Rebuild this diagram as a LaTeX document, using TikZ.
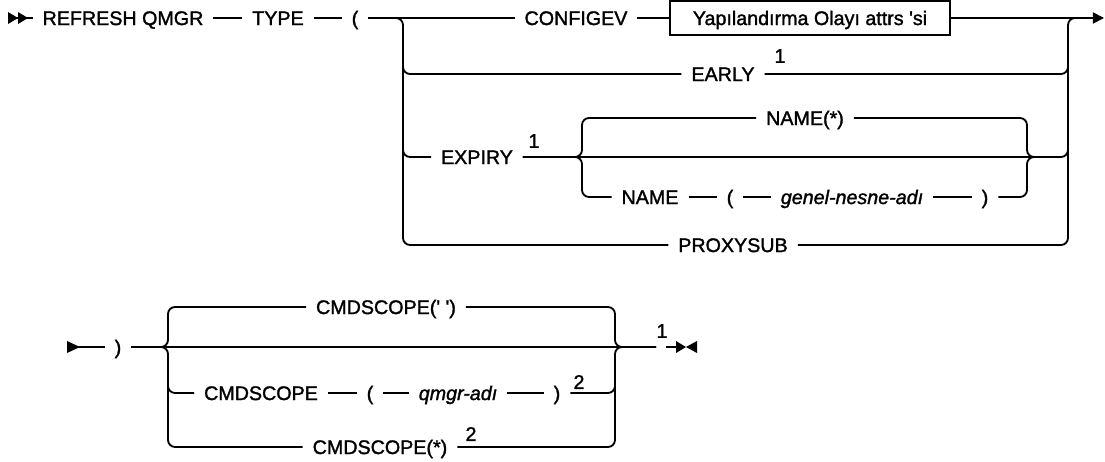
\documentclass[tikz,border=0pt]{standalone}
\usepackage{fontspec}
\setmainfont[Ligatures=TeXOff,FakeBold=1.5]{Liberation Sans}
\usetikzlibrary{arrows.meta}
\newcommand\synsize{\fontsize{14}{16}\selectfont}

\begin{document}
\begin{tikzpicture}[x=0.025cm, y=-0.025cm, line width=1.3pt,
  kw/.style={font=\synsize, inner xsep=6.5pt, inner ysep=0pt, text height=10pt, text depth=0pt},
  var/.style={kw, font=\synsize\itshape},
  fn/.style={font=\synsize, inner sep=0pt},
  attrbox/.style={kw, draw, minimum width=7cm, minimum height=0.85cm},
  rc/.style={rounded corners=5pt}]
  \useasboundingbox (0,0) rectangle (1105,461);

  % first line
  \coordinate (in1) at (8,18);
  \node[kw] (refresh) at (123,18) {REFRESH QMGR};
  \node[kw] (type) at (278,18) {TYPE};
  \node[kw] (lparen) at (355,18) {(};
  \node[kw] (configev) at (576,18) {CONFIGEV};
  \node[attrbox] (attrs) at (810,18) {Yapılandırma Olayı attrs 'si};
  \node[kw] (early) at (723,74) {EARLY};
  \node[fn] (n1a) at (780,56) {1};
  \node[kw] (expiry) at (477,157) {EXPIRY};
  \node[fn] (n1b) at (534,141) {1};
  \node[kw] (namestar) at (805,118) {NAME(*)};
  \node[kw] (name) at (650,197) {NAME};
  \node[kw] (lp2) at (730,197) {(};
  \node[var] (genel) at (852,197) {genel-nesne-adı};
  \node[kw] (rp2) at (985,197) {)};
  \node[kw] (proxysub) at (733,245) {PROXYSUB};
  \coordinate (L1b) at (403,245);
  \coordinate (L1m) at (403,40);
  \coordinate (R1) at (1068,18);
  \coordinate (R1m) at (1068,40);
  \coordinate (S1t) at (582,118);
  \coordinate (S1b) at (582,197);
  \coordinate (S2) at (1027,157);
  \coordinate (S2o) at (1045,157);
  \coordinate (exit1) at (1104,18);

  \fill (8,12) -- (18,18) -- (8,24) -- cycle;
  \fill (18,12) -- (28,18) -- (18,24) -- cycle;
  \draw (in1) -- (refresh);
  \draw (refresh) -- (type);
  \draw (type) -- (lparen);
  \draw (lparen) -- (configev);
  \draw (configev) -- (attrs);
  \draw[-{Triangle[length=0.28cm,width=0.28cm]}] (attrs) -- (exit1);
  \draw[rc] (lparen) -| (L1b) -- (proxysub);
  \draw[rc] (L1m) |- (early);
  \draw[rc] (L1m) |- (expiry);
  \draw[rc] (early) -| (R1m);
  \draw[rc] (expiry) -| (R1m);
  \draw[rc] (proxysub) -| (R1) -- ++(12,0);
  \draw[rc] (expiry) -| (S1t) -- (namestar);
  \draw[rc] (expiry) -| (S1b) -- (name);
  \draw (name) -- (lp2);
  \draw (lp2) -- (genel);
  \draw (genel) -- (rp2);
  \draw[rc] (namestar) -| (S2) -- (S2o);
  \draw[rc] (rp2) -| (S2) -- (S2o);

  % second line
  \coordinate (in2) at (67,347);
  \node[kw] (rp1) at (118,347) {)};
  \node[kw] (cmdq) at (386,307) {CMDSCOPE(' ')};
  \node[kw] (cmd) at (261,393) {CMDSCOPE};
  \node[kw] (lp3) at (370,393) {(};
  \node[var] (qmgr) at (458,393) {qmgr-adı};
  \node[kw] (rp3) at (557,393) {)};
  \node[fn] (n2a) at (579,382) {2};
  \node[kw] (cmdstar) at (380,447) {CMDSCOPE(*)};
  \node[fn] (n2b) at (471,434) {2};
  \node[fn] (n1c) at (662,331) {1};
  \coordinate (L2t) at (168,307);
  \coordinate (L2b) at (168,447);
  \coordinate (L2m) at (168,370);
  \coordinate (R2) at (615,347);
  \coordinate (R2m) at (615,370);
  \coordinate (e2) at (656,347);
  \coordinate (e3) at (666,347);
  \coordinate (stop) at (676,347);

  \fill (67,341) -- (80,347) -- (67,353) -- cycle;
  \draw (in2) -- (rp1);
  \draw (rp1) -- (e2);
  \draw[rc] (rp1) -| (L2t) -- (cmdq);
  \draw[rc] (rp1) -| (L2b) -- (cmdstar);
  \draw[rc] (L2m) |- (cmd);
  \draw (cmd) -- (lp3);
  \draw (lp3) -- (qmgr);
  \draw (qmgr) -- (rp3);
  \draw[rc] (cmdq) -| (R2) -- (e2);
  \draw[rc] (cmdstar) -| (R2) -- (e2);
  \draw[rc] (rp3) -| (R2m);
  \draw (e3) -- (stop);
  \fill (676,341) -- (686,347) -- (676,353) -- cycle;
  \fill (697,341) -- (686,347) -- (697,353) -- cycle;
\end{tikzpicture}
\end{document}
